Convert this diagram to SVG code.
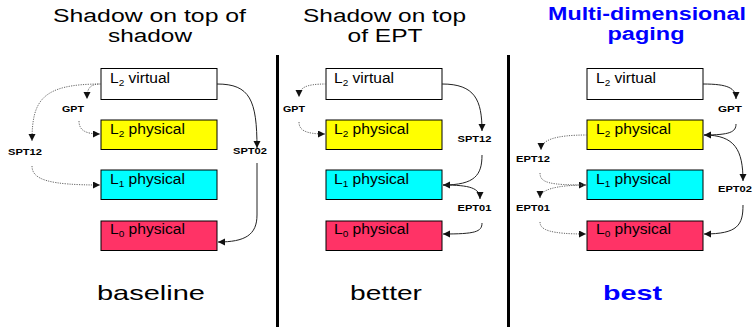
<svg xmlns="http://www.w3.org/2000/svg" width="753" height="327" viewBox="0 0 753 327">
  <style>
    .title { font-family: "Liberation Sans", Arial, sans-serif; font-size: 18px; fill: #000; text-anchor: middle; }
    .title-hl { font-family: "Liberation Sans", Arial, sans-serif; font-size: 18px; font-weight: bold; fill: #0000ff; text-anchor: middle; }
    .caption { font-family: "Liberation Sans", Arial, sans-serif; font-size: 21px; fill: #000; text-anchor: middle; }
    .caption-hl { font-family: "Liberation Sans", Arial, sans-serif; font-size: 21px; font-weight: bold; fill: #0000ff; text-anchor: middle; }
    .box { stroke: #000; stroke-width: 1; }
    .virt { fill: #ffffff; }
    .l2 { fill: #ffff00; }
    .l1 { fill: #00ffff; }
    .l0 { fill: #ff3366; }
    .boxlabel { font-family: "Liberation Sans", Arial, sans-serif; font-size: 14px; fill: #000; }
    .sub { font-size: 9px; }
    .tbl { font-family: "Liberation Sans", Arial, sans-serif; font-size: 8.5px; font-weight: bold; fill: #000; text-anchor: middle; }
    .solid { fill: none; stroke: #222; stroke-width: 1; marker-end: url(#arrowSolid); }
    .dotted { fill: none; stroke: #666; stroke-width: 1; stroke-dasharray: 1.2 1.2; marker-end: url(#arrowDot); }
    .divider { fill: #000; }
  </style>
  <defs>
    <marker id="arrowSolid" markerUnits="userSpaceOnUse" markerWidth="9" markerHeight="9" refX="7" refY="3.5" orient="auto">
      <path d="M0,0 L7,3.5 L0,7 Z" fill="#111"/>
    </marker>
    <marker id="arrowDot" markerUnits="userSpaceOnUse" markerWidth="9" markerHeight="9" refX="7" refY="3.5" orient="auto">
      <path d="M0,0 L7,3.5 L0,7 Z" fill="#111"/>
    </marker>
  </defs>

  <rect width="753" height="327" fill="#ffffff"/>

  <!-- column titles -->
  <g id="titles">
    <text class="title" x="149.5" y="22" textLength="193" lengthAdjust="spacingAndGlyphs">Shadow on top of</text>
    <text class="title" x="150" y="42" textLength="84" lengthAdjust="spacingAndGlyphs">shadow</text>
    <text class="title" x="384.5" y="22" textLength="163" lengthAdjust="spacingAndGlyphs">Shadow on top</text>
    <text class="title" x="385" y="42" textLength="75" lengthAdjust="spacingAndGlyphs">of EPT</text>
    <text class="title-hl" x="647" y="20" textLength="198" lengthAdjust="spacingAndGlyphs">Multi-dimensional</text>
    <text class="title-hl" x="646" y="40" textLength="77" lengthAdjust="spacingAndGlyphs">paging</text>
  </g>

  <!-- column separators -->
  <g id="dividers">
    <rect class="divider" x="276" y="55" width="3" height="272"/>
    <rect class="divider" x="507" y="55" width="3" height="272"/>
  </g>

  <!-- column 1: shadow on top of shadow -->
  <g id="c1-l2v"><rect class="box virt" x="101" y="68.5" width="116" height="31"/><text class="boxlabel" x="110" y="83" textLength="60" lengthAdjust="spacingAndGlyphs">L<tspan class="sub" dy="3">2</tspan><tspan dy="-3"> virtual</tspan></text></g>
  <g id="c1-l2p"><rect class="box l2" x="101" y="120" width="116" height="29.5"/><text class="boxlabel" x="110" y="134" textLength="75" lengthAdjust="spacingAndGlyphs">L<tspan class="sub" dy="3">2</tspan><tspan dy="-3"> physical</tspan></text></g>
  <g id="c1-l1p"><rect class="box l1" x="101" y="170" width="116" height="29.5"/><text class="boxlabel" x="110" y="184" textLength="75" lengthAdjust="spacingAndGlyphs">L<tspan class="sub" dy="3">1</tspan><tspan dy="-3"> physical</tspan></text></g>
  <g id="c1-l0p"><rect class="box l0" x="101" y="221" width="116" height="29.5"/><text class="boxlabel" x="110" y="234" textLength="75" lengthAdjust="spacingAndGlyphs">L<tspan class="sub" dy="3">0</tspan><tspan dy="-3"> physical</tspan></text></g>
  <g id="c1-gpt"><text class="tbl" x="73" y="112" textLength="22" lengthAdjust="spacingAndGlyphs">GPT</text></g>
  <g id="c1-spt12"><text class="tbl" x="25" y="155" textLength="34" lengthAdjust="spacingAndGlyphs">SPT12</text></g>
  <g id="c1-spt02"><text class="tbl" x="250" y="154" textLength="34" lengthAdjust="spacingAndGlyphs">SPT02</text></g>

  <!-- column 2: shadow on top of EPT -->
  <g id="c2-l2v"><rect class="box virt" x="326" y="68.5" width="116" height="31"/><text class="boxlabel" x="334" y="83" textLength="60" lengthAdjust="spacingAndGlyphs">L<tspan class="sub" dy="3">2</tspan><tspan dy="-3"> virtual</tspan></text></g>
  <g id="c2-l2p"><rect class="box l2" x="326" y="120" width="116" height="29.5"/><text class="boxlabel" x="334" y="134" textLength="75" lengthAdjust="spacingAndGlyphs">L<tspan class="sub" dy="3">2</tspan><tspan dy="-3"> physical</tspan></text></g>
  <g id="c2-l1p"><rect class="box l1" x="326" y="170" width="116" height="29.5"/><text class="boxlabel" x="334" y="184" textLength="75" lengthAdjust="spacingAndGlyphs">L<tspan class="sub" dy="3">1</tspan><tspan dy="-3"> physical</tspan></text></g>
  <g id="c2-l0p"><rect class="box l0" x="326" y="221" width="116" height="29.5"/><text class="boxlabel" x="334" y="234" textLength="75" lengthAdjust="spacingAndGlyphs">L<tspan class="sub" dy="3">0</tspan><tspan dy="-3"> physical</tspan></text></g>
  <g id="c2-gpt"><text class="tbl" x="294" y="112" textLength="22" lengthAdjust="spacingAndGlyphs">GPT</text></g>
  <g id="c2-spt12"><text class="tbl" x="474.5" y="142" textLength="34" lengthAdjust="spacingAndGlyphs">SPT12</text></g>
  <g id="c2-ept01"><text class="tbl" x="474.5" y="211" textLength="34" lengthAdjust="spacingAndGlyphs">EPT01</text></g>

  <!-- column 3: multi-dimensional paging -->
  <g id="c3-l2v"><rect class="box virt" x="587" y="68.5" width="116" height="31"/><text class="boxlabel" x="596" y="83" textLength="60" lengthAdjust="spacingAndGlyphs">L<tspan class="sub" dy="3">2</tspan><tspan dy="-3"> virtual</tspan></text></g>
  <g id="c3-l2p"><rect class="box l2" x="587" y="120" width="116" height="29.5"/><text class="boxlabel" x="596" y="134" textLength="75" lengthAdjust="spacingAndGlyphs">L<tspan class="sub" dy="3">2</tspan><tspan dy="-3"> physical</tspan></text></g>
  <g id="c3-l1p"><rect class="box l1" x="587" y="170" width="116" height="29.5"/><text class="boxlabel" x="596" y="184" textLength="75" lengthAdjust="spacingAndGlyphs">L<tspan class="sub" dy="3">1</tspan><tspan dy="-3"> physical</tspan></text></g>
  <g id="c3-l0p"><rect class="box l0" x="587" y="221" width="116" height="29.5"/><text class="boxlabel" x="596" y="234" textLength="75" lengthAdjust="spacingAndGlyphs">L<tspan class="sub" dy="3">0</tspan><tspan dy="-3"> physical</tspan></text></g>
  <g id="c3-gpt"><text class="tbl" x="730" y="112" textLength="24" lengthAdjust="spacingAndGlyphs">GPT</text></g>
  <g id="c3-ept12"><text class="tbl" x="533" y="162" textLength="34" lengthAdjust="spacingAndGlyphs">EPT12</text></g>
  <g id="c3-ept01"><text class="tbl" x="533" y="211" textLength="34" lengthAdjust="spacingAndGlyphs">EPT01</text></g>
  <g id="c3-ept02"><text class="tbl" x="735" y="192" textLength="34" lengthAdjust="spacingAndGlyphs">EPT02</text></g>

  <!-- translation paths -->
  <g id="connectors">
    <!-- column 1 -->
    <path class="dotted" d="M101,84 C90,84 87,88 87,99"/>
    <path class="dotted" d="M79,121 C79,130 85,134 100,134"/>
    <path class="dotted" d="M101,84 C42,84 32,100 32,141"/>
    <path class="dotted" d="M32,166 C32,180 50,185 100,185"/>
    <path class="solid" d="M217,84 C250,84 257,100 257,148"/>
    <path class="solid" d="M257,163 L257,215 C257,235 245,242 218,242"/>
    <!-- column 2 -->
    <path class="dotted" d="M326,84 C305,84 299,88 299,97"/>
    <path class="dotted" d="M299,122 C299,130 305,134 325,134"/>
    <path class="solid" d="M442,84 C475,84 482,100 482,131"/>
    <path class="solid" d="M482,155 C482,175 475,185 443,185"/>
    <path class="solid" d="M443,185 C470,185 480,188 480,199"/>
    <path class="solid" d="M482,223 C482,232 475,234 443,234"/>
    <!-- column 3 -->
    <path class="solid" d="M703,84 C728,84 736,88 736,99"/>
    <path class="solid" d="M736,124 C736,132 730,135 704,135"/>
    <path class="solid" d="M704,135 C735,135 743,150 743,181"/>
    <path class="solid" d="M743,205 C743,225 738,234 704,234"/>
    <path class="dotted" d="M587,135 C555,135 541,140 541,150"/>
    <path class="dotted" d="M540,173 C540,183 550,185 586,185"/>
    <path class="dotted" d="M587,185 C555,185 540,190 540,198"/>
    <path class="dotted" d="M540,222 C540,230 550,234 586,234"/>
  </g>

  <!-- column captions -->
  <g id="captions">
    <text class="caption" x="151" y="300" textLength="108" lengthAdjust="spacingAndGlyphs">baseline</text>
    <text class="caption" x="386" y="300" textLength="72" lengthAdjust="spacingAndGlyphs">better</text>
    <text class="caption-hl" x="632.5" y="300" textLength="59" lengthAdjust="spacingAndGlyphs">best</text>
  </g>
</svg>
